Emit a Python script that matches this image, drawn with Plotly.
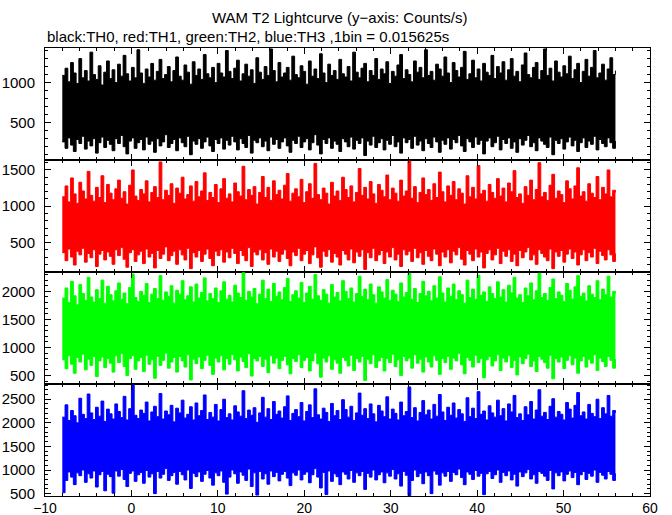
import numpy as np
import plotly.graph_objects as go
from plotly.subplots import make_subplots

# Time axis (s): 1 bin = 0.015625 s; curves drawn as per-interval envelopes (max / min)
T_START = -8.0
T_END = 56.0

# TH0 (black) envelope, counts/s
th0_high = [1090, 1180, 1010, 1250, 1120, 990, 1300, 1060, 1150, 1020, 1380, 1100, 1040, 1210, 970, 1130, 1270, 1050, 1160, 1000,
            1230, 1080, 1340, 1110, 1020, 1190, 1060, 1410, 1120, 990, 1170, 1070, 1240, 1030, 1140, 1290, 1050, 1100, 1200, 1010,
            1150, 1320, 1080, 1030, 1220, 1130, 980, 1260, 1090, 1170, 1040, 1350, 1110, 1060, 1190, 1000, 1240, 1120, 1070, 1400,
            1140, 1050, 1180, 1280, 1020, 1110, 1230, 1080, 1160, 990, 1310, 1130, 1040, 1200, 1090, 1420, 1150, 1010, 1250, 1070,
            1120, 1190, 1030, 1330, 1100, 1060, 1210, 1140, 980, 1270, 1080, 1170, 1050, 1360, 1120, 1000, 1230, 1090, 1150, 1040,
            1290, 1110, 1070, 1200, 1020, 1380, 1130, 1060, 1180, 1240, 1010, 1150, 1090, 1300, 1040, 1170, 1110, 1260, 990, 1140,
            1080, 1220, 1350, 1050, 1160, 1100, 1010, 1270, 1130, 1190, 1060, 1410, 1090, 1140, 1030, 1230, 1170, 1080, 1320, 1120,
            1000, 1250, 1150, 1070, 1190, 1390, 1040, 1110, 1280, 1060, 1170, 1020, 1240, 1130, 1090, 1340, 1050, 1200, 1120, 1260,
            1030, 1160, 1300, 1080, 1140, 1010, 1220, 1370, 1100, 1060, 1190, 1250, 1040, 1150, 1420, 1090, 1180, 1020, 1270, 1130,
            1070, 1210, 1110, 1330, 1050, 1160, 1240, 1000, 1140, 1290, 1080, 1190, 1400, 1060, 1120, 1230, 1030, 1170, 1310, 1100,
            1150]
th0_low = [260, 180, 310, 220, 140, 290, 240, 330, 170, 270, 210, 300, 120, 250, 320, 190, 280, 230, 150, 300,
           240, 340, 200, 110, 270, 310, 180, 250, 290, 160, 320, 230, 270, 130, 300, 210, 260, 350, 190, 240,
           290, 150, 310, 250, 200, 330, 100, 270, 230, 300, 180, 260, 320, 210, 140, 290, 240, 310, 170, 280,
           220, 330, 260, 160, 300, 240, 190, 340, 120, 280, 250, 310, 200, 270, 150, 320, 230, 290, 180, 260,
           310, 210, 130, 280, 240, 330, 190, 260, 300, 160, 250, 350, 220, 110, 290, 240, 310, 180, 270, 230,
           140, 300, 260, 200, 320, 170, 280, 240, 310, 90, 270, 220, 330, 190, 250, 300, 160, 280, 230, 340,
           200, 260, 120, 310, 250, 290, 180, 330, 220, 270, 150, 300, 240, 190, 320, 260, 130, 280, 230, 310,
           170, 290, 250, 340, 210, 140, 300, 260, 190, 320, 230, 280, 110, 270, 310, 200, 250, 330, 160, 290,
           240, 310, 180, 260, 130, 300, 220, 280, 340, 200, 250, 150, 310, 270, 230, 190, 320, 100, 280, 240,
           300, 170, 260, 320, 210, 280, 140, 250, 310, 190, 270, 230, 330, 160, 290, 240, 200, 310, 250, 180,
           270]

# TH1 (red)
th1_high = [1130, 1280, 1060, 1390, 1170, 1040, 1330, 1210, 1100, 1480, 1150, 1070, 1260, 1120, 1420, 1050, 1300, 1180, 1090, 1240,
            1360, 1110, 1200, 1030, 1290, 1500, 1140, 1080, 1230, 1170, 1350, 1060, 1190, 1270, 1120, 1610, 1090, 1220, 1150, 1310,
            1040, 1250, 1180, 1400, 1100, 1160, 1280, 1070, 1340, 1130, 1210, 1460, 1080, 1190, 1120, 1300, 1050, 1240, 1380, 1110,
            1170, 1060, 1320, 1200, 1140, 1550, 1090, 1230, 1150, 1270, 1030, 1190, 1410, 1120, 1260, 1080, 1350, 1160, 1220, 1100,
            1290, 1450, 1070, 1180, 1240, 1130, 1370, 1050, 1200, 1310, 1110, 1590, 1160, 1090, 1250, 1180, 1030, 1330, 1140, 1210,
            1080, 1400, 1230, 1120, 1280, 1060, 1190, 1520, 1150, 1260, 1100, 1340, 1170, 1040, 1300, 1220, 1130, 1430, 1090, 1250,
            1180, 1070, 1360, 1140, 1210, 1620, 1110, 1270, 1050, 1190, 1390, 1160, 1230, 1080, 1310, 1120, 1470, 1200, 1060, 1280,
            1150, 1340, 1090, 1240, 1180, 1030, 1420, 1130, 1260, 1100, 1560, 1170, 1220, 1070, 1300, 1190, 1110, 1380, 1140, 1250,
            1060, 1320, 1200, 1490, 1120, 1170, 1040, 1270, 1150, 1360, 1090, 1230, 1600, 1130, 1190, 1080, 1290, 1440, 1110, 1210,
            1160, 1050, 1350, 1240, 1100, 1280, 1530, 1140, 1200, 1070, 1310, 1180, 1120, 1410, 1090, 1260, 1170, 1500, 1130, 1220,
            1190]
th1_low = [360, 250, 410, 300, 190, 380, 330, 420, 230, 350, 290, 400, 170, 340, 390, 260, 370, 310, 200, 400,
           320, 430, 270, 160, 360, 400, 240, 330, 380, 210, 410, 300, 350, 150, 390, 280, 340, 440, 250, 320,
           380, 200, 400, 330, 260, 420, 140, 360, 300, 390, 240, 340, 410, 280, 180, 380, 320, 400, 230, 370,
           290, 420, 350, 210, 390, 320, 250, 430, 170, 370, 330, 400, 260, 360, 200, 410, 300, 380, 240, 340,
           400, 280, 180, 370, 320, 420, 250, 340, 390, 210, 330, 440, 290, 160, 380, 310, 400, 230, 350, 300,
           190, 390, 340, 260, 410, 220, 370, 310, 400, 130, 360, 290, 420, 250, 330, 390, 210, 370, 300, 430,
           260, 340, 170, 400, 330, 380, 240, 420, 290, 360, 200, 390, 310, 250, 410, 340, 180, 370, 300, 400,
           220, 380, 330, 430, 270, 190, 390, 340, 250, 410, 300, 370, 150, 350, 400, 260, 330, 420, 210, 380,
           310, 400, 240, 340, 180, 390, 290, 370, 430, 260, 330, 200, 400, 350, 300, 250, 410, 140, 370, 310,
           390, 230, 340, 410, 280, 370, 190, 330, 400, 250, 360, 300, 420, 210, 380, 320, 260, 400, 330, 240,
           350]

# TH2 (green)
th2_high = [1880, 2060, 1800, 2180, 1920, 1760, 2120, 1960, 1840, 2250, 1900, 1810, 2030, 1870, 2200, 1790, 2090, 1940, 1830, 2010,
            2150, 1860, 1970, 1780, 2070, 2310, 1890, 1820, 2000, 1930, 2140, 1800, 1950, 2050, 1870, 2280, 1840, 1990, 1910, 2100,
            1790, 2020, 1950, 2190, 1850, 1920, 2080, 1810, 2130, 1880, 1980, 2240, 1830, 1960, 1870, 2060, 1800, 2010, 2170, 1860,
            1930, 1810, 2110, 1970, 1890, 2330, 1840, 2000, 1900, 2050, 1780, 1950, 2200, 1870, 2040, 1820, 2140, 1910, 1990, 1850,
            2070, 2230, 1820, 1940, 2010, 1880, 2160, 1800, 1970, 2090, 1860, 2300, 1920, 1840, 2030, 1950, 1790, 2120, 1900, 1980,
            1830, 2190, 2000, 1870, 2060, 1810, 1960, 2270, 1910, 2040, 1850, 2130, 1940, 1790, 2080, 1990, 1880, 2210, 1840, 2020,
            1950, 1820, 2150, 1900, 1980, 2320, 1860, 2050, 1800, 1960, 2180, 1920, 2000, 1830, 2100, 1880, 2260, 1970, 1810, 2060,
            1910, 2130, 1850, 2010, 1940, 1790, 2200, 1890, 2040, 1860, 2290, 1930, 1990, 1820, 2080, 1960, 1870, 2170, 1900, 2030,
            1810, 2110, 1970, 2250, 1880, 1940, 1800, 2060, 1920, 2150, 1850, 2010, 2320, 1890, 1960, 1840, 2070, 2220, 1870, 1990,
            1930, 1820, 2140, 2020, 1860, 2080, 2280, 1910, 1970, 1830, 2100, 1950, 1890, 2190, 1850, 2040, 1940, 2270, 1900, 2000,
            1960]
th2_low = [780, 620, 850, 700, 540, 820, 740, 880, 600, 790, 680, 840, 480, 760, 830, 640, 800, 720, 560, 850,
           730, 890, 660, 500, 800, 850, 610, 760, 820, 570, 860, 700, 780, 450, 840, 680, 770, 900, 630, 740,
           820, 560, 840, 760, 650, 870, 420, 790, 710, 830, 620, 770, 860, 680, 520, 810, 740, 850, 600, 800,
           700, 870, 780, 580, 830, 750, 640, 890, 490, 800, 760, 840, 660, 790, 550, 850, 720, 810, 620, 770,
           840, 690, 530, 800, 750, 870, 640, 770, 820, 580, 760, 900, 710, 470, 810, 740, 850, 610, 780, 720,
           540, 820, 770, 670, 860, 590, 800, 740, 840, 410, 790, 710, 870, 640, 760, 820, 580, 800, 730, 880,
           660, 780, 500, 840, 760, 810, 630, 870, 720, 790, 560, 830, 740, 650, 850, 770, 520, 800, 730, 840,
           610, 810, 760, 890, 690, 530, 820, 770, 650, 860, 730, 800, 460, 780, 840, 670, 760, 870, 590, 810,
           740, 850, 640, 770, 510, 830, 710, 800, 880, 660, 760, 570, 840, 790, 730, 630, 860, 440, 800, 740,
           830, 620, 770, 850, 690, 810, 540, 760, 840, 650, 790, 720, 870, 590, 810, 750, 660, 840, 770, 630,
           790]

# TH3 (blue)
th3_high = [2120, 2380, 2050, 2260, 2150, 2000, 2520, 2180, 2090, 2610, 2210, 2070, 2330, 2140, 2460, 2030, 2290, 2190, 2080, 2400,
            2240, 2110, 2560, 2060, 2300, 2800, 2160, 2090, 2270, 2200, 2440, 2040, 2230, 2350, 2130, 2620, 2080, 2250, 2170, 2370,
            2020, 2310, 2210, 2480, 2100, 2180, 2340, 2060, 2420, 2150, 2260, 2590, 2070, 2220, 2120, 2390, 2040, 2280, 2500, 2110,
            2190, 2060, 2360, 2230, 2140, 2680, 2090, 2270, 2160, 2320, 2010, 2210, 2540, 2120, 2300, 2070, 2450, 2180, 2250, 2100,
            2340, 2570, 2050, 2200, 2280, 2130, 2430, 2040, 2240, 2380, 2110, 2720, 2170, 2080, 2310, 2220, 2030, 2410, 2150, 2260,
            2070, 2490, 2280, 2120, 2350, 2050, 2210, 2630, 2160, 2300, 2090, 2400, 2190, 2020, 2370, 2250, 2130, 2550, 2080, 2290,
            2200, 2060, 2440, 2150, 2240, 2760, 2110, 2320, 2040, 2220, 2470, 2170, 2270, 2080, 2390, 2140, 2600, 2230, 2050, 2330,
            2160, 2420, 2100, 2280, 2190, 2030, 2530, 2130, 2310, 2090, 2660, 2180, 2250, 2060, 2360, 2210, 2120, 2480, 2150, 2300,
            2040, 2400, 2230, 2580, 2110, 2190, 2050, 2340, 2170, 2450, 2080, 2270, 2700, 2140, 2220, 2070, 2350, 2510, 2120, 2240,
            2180, 2060, 2430, 2290, 2100, 2370, 2640, 2150, 2230, 2080, 2390, 2200, 2130, 2500, 2090, 2320, 2190, 2580, 2140, 2260,
            2210]
th3_low = [520, 780, 960, 850, 690, 940, 880, 1000, 740, 920, 830, 980, 640, 900, 970, 560, 910, 860, 510, 980,
           870, 1010, 800, 650, 930, 980, 760, 900, 950, 720, 990, 850, 920, 500, 970, 830, 910, 1030, 780, 880,
           950, 700, 970, 900, 790, 1000, 610, 930, 860, 960, 760, 910, 990, 830, 680, 940, 880, 980, 740, 490,
           850, 1000, 920, 720, 960, 890, 780, 1020, 650, 940, 470, 970, 810, 920, 700, 980, 860, 950, 770, 910,
           970, 830, 670, 940, 890, 1000, 790, 910, 960, 730, 900, 1030, 850, 620, 950, 480, 980, 760, 920, 860,
           690, 960, 910, 810, 990, 740, 940, 880, 970, 590, 930, 850, 1000, 790, 900, 960, 730, 940, 870, 1010,
           810, 920, 660, 970, 890, 460, 780, 1000, 860, 930, 710, 960, 880, 500, 980, 910, 680, 940, 870, 970,
           760, 950, 900, 1020, 840, 690, 960, 910, 800, 990, 870, 930, 480, 920, 970, 820, 900, 1000, 740, 950,
           880, 980, 790, 910, 660, 960, 860, 940, 1010, 810, 900, 720, 970, 930, 870, 780, 990, 600, 940, 880,
           960, 770, 910, 980, 840, 950, 690, 900, 970, 800, 930, 870, 1000, 740, 950, 890, 810, 970, 910, 780,
           930]

SERIES = [
    ("TH0", th0_high, th0_low, "#000000"),
    ("TH1", th1_high, th1_low, "#ff0000"),
    ("TH2", th2_high, th2_low, "#00ff00"),
    ("TH3", th3_high, th3_low, "#0000ff"),
]
Y_RANGES = [[34, 1432], [94, 1637], [348, 2345], [450, 2822]]
X_TICKS = [-10, 0, 10, 20, 30, 40, 50, 60]

FONT = "Liberation Sans, Arial, Helvetica, sans-serif"

fig = make_subplots(rows=4, cols=1, shared_xaxes=True, vertical_spacing=0)

for r, (name, hi, lo, col) in enumerate(SERIES, start=1):
    x_lo = np.linspace(T_START, T_END, len(lo))
    x_hi = np.linspace(T_START, T_END, len(hi))
    fig.add_trace(go.Scatter(x=x_lo, y=lo, mode="lines", line=dict(color=col, width=1, shape="hv"),
                             showlegend=False, hoverinfo="skip", name=name), row=r, col=1)
    fig.add_trace(go.Scatter(x=x_hi, y=hi, mode="lines", line=dict(color=col, width=1, shape="hv"),
                             fill="tonexty", fillcolor=col, showlegend=False,
                             hoverinfo="skip", name=name), row=r, col=1)

axis_common = dict(showline=True, linecolor="black", linewidth=1, mirror="allticks",
                   ticks="inside", ticklen=6, tickwidth=1, tickcolor="black",
                   showgrid=False, zeroline=False, automargin=False)

for r in range(1, 5):
    fig.update_xaxes(range=[-10, 60], tickvals=X_TICKS,
                     minor=dict(dtick=2, ticklen=3, ticks="inside", tickcolor="black", showgrid=False),
                     tickfont=dict(family=FONT, size=14, color="black"), ticklabelstandoff=-1,
                     showticklabels=(r == 4), row=r, col=1, **axis_common)
    fig.update_yaxes(range=Y_RANGES[r - 1], dtick=500, tick0=0,
                     minor=dict(dtick=100, ticklen=3, ticks="inside", tickcolor="black", showgrid=False),
                     tickfont=dict(family=FONT, size=15, color="black"),
                     ticklabelstandoff=6, row=r, col=1, **axis_common)

fig.update_layout(
    width=672, height=515,
    margin=dict(l=45, r=22, t=48, b=19),
    paper_bgcolor="white", plot_bgcolor="white",
    font=dict(family=FONT, size=15, color="black"),
    showlegend=False,
    annotations=[
        dict(text="WAM T2 Lightcurve (y\u2212axis: Counts/s)", xref="paper", yref="paper",
             x=0.4876, y=1.0 + 30.5 / 448, xanchor="center", yanchor="middle", showarrow=False,
             font=dict(family=FONT, size=15, color="black")),
        dict(text="black:TH0, red:TH1, green:TH2, blue:TH3 ,1bin = 0.015625s", xref="paper", yref="paper",
             x=0.0, y=1.0 + 12 / 448, xanchor="left", yanchor="middle", showarrow=False,
             font=dict(family=FONT, size=15, color="black")),
    ],
)

# remove the default 8 px page margin so the 672x515 figure fills the window exactly
fig.write_html("out.html", config={"displayModeBar": False, "staticPlot": True},
               post_script="document.body.style.margin='0';document.body.style.overflow='hidden';")
